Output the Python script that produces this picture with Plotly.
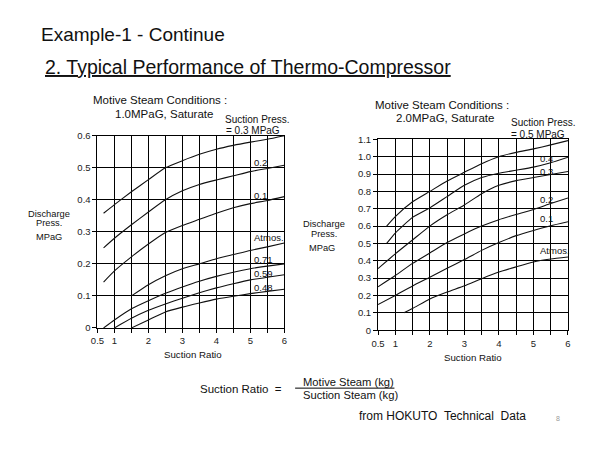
import plotly.graph_objects as go

# ---------------- data ----------------
# Left chart: Motive steam 1.0 MPaG
L_03_x = [0.68, 1.0, 1.5, 2.0, 2.5, 3.0, 3.5, 4.0, 4.5, 5.0, 5.5, 6.0]
L_03_y = [0.358, 0.385, 0.425, 0.463, 0.5, 0.522, 0.542, 0.558, 0.57, 0.58, 0.589, 0.6]
L_02_x = [0.68, 1.0, 1.5, 2.0, 2.5, 3.0, 3.5, 4.0, 4.5, 5.0, 5.5, 6.0]
L_02_y = [0.25, 0.28, 0.322, 0.362, 0.4, 0.428, 0.448, 0.462, 0.475, 0.488, 0.498, 0.508]
L_01_x = [0.68, 1.0, 1.5, 2.0, 2.5, 3.0, 3.5, 4.0, 4.5, 5.0, 5.5, 6.0]
L_01_y = [0.143, 0.178, 0.222, 0.262, 0.298, 0.32, 0.339, 0.358, 0.375, 0.388, 0.398, 0.41]
L_atm_x = [1.5, 2.0, 2.5, 3.0, 3.5, 4.0, 4.5, 5.0, 5.5, 6.0]
L_atm_y = [0.1, 0.135, 0.163, 0.185, 0.2, 0.216, 0.229, 0.242, 0.253, 0.265]
L_071_x = [0.68, 1.0, 1.5, 2.0, 2.5, 3.0, 3.5, 4.0, 4.5, 5.0, 5.5, 6.0]
L_071_y = [0.0, 0.025, 0.06, 0.085, 0.108, 0.128, 0.146, 0.161, 0.174, 0.185, 0.193, 0.2]
L_059_x = [1.0, 1.5, 2.0, 2.5, 3.0, 3.5, 4.0, 4.5, 5.0, 5.5, 6.0]
L_059_y = [0.0, 0.03, 0.055, 0.075, 0.093, 0.11, 0.125, 0.138, 0.15, 0.158, 0.166]
L_048_x = [1.5, 2.0, 2.5, 3.0, 3.5, 4.0, 4.5, 5.0, 5.5, 6.0]
L_048_y = [0.0, 0.025, 0.05, 0.065, 0.078, 0.09, 0.099, 0.107, 0.114, 0.121]

# Right chart: Motive steam 2.0 MPaG
R_05_x = [0.75, 1.0, 1.5, 2.0, 2.5, 3.0, 3.5, 4.0, 4.5, 5.0, 5.5, 6.0]
R_05_y = [0.6, 0.655, 0.74, 0.8, 0.86, 0.91, 0.96, 1.0, 1.025, 1.045, 1.068, 1.093]
R_04_x = [0.75, 1.0, 1.5, 2.0, 2.5, 3.0, 3.5, 4.0, 4.5, 5.0, 5.5, 6.0]
R_04_y = [0.5, 0.56, 0.65, 0.705, 0.77, 0.835, 0.88, 0.905, 0.922, 0.94, 0.965, 0.997]
R_03_x = [0.5, 1.0, 1.5, 2.0, 2.5, 3.0, 3.5, 4.0, 4.5, 5.0, 5.5, 6.0]
R_03_y = [0.355, 0.44, 0.52, 0.6, 0.665, 0.722, 0.787, 0.835, 0.862, 0.88, 0.897, 0.915]
R_02_x = [0.5, 1.0, 1.5, 2.0, 2.5, 3.0, 3.5, 4.0, 4.5, 5.0, 5.5, 6.0]
R_02_y = [0.25, 0.315, 0.385, 0.445, 0.505, 0.555, 0.6, 0.637, 0.667, 0.696, 0.73, 0.762]
R_01_x = [0.5, 1.0, 1.5, 2.0, 2.5, 3.0, 3.5, 4.0, 4.5, 5.0, 5.5, 6.0]
R_01_y = [0.148, 0.2, 0.255, 0.305, 0.357, 0.407, 0.46, 0.505, 0.545, 0.575, 0.602, 0.625]
R_atm_x = [1.25, 1.5, 2.0, 2.5, 3.0, 3.5, 4.0, 4.5, 5.0, 5.5, 6.0]
R_atm_y = [0.1, 0.125, 0.18, 0.22, 0.256, 0.297, 0.335, 0.365, 0.393, 0.41, 0.422]

x_tickvals = [0.5, 1, 2, 3, 4, 5, 6]
x_ticktext = ["0.5", "1", "2", "3", "4", "5", "6"]
yL_tickvals = [0, 0.1, 0.2, 0.3, 0.4, 0.5, 0.6]
yL_ticktext = ["0", "0.1", "0.2", "0.3", "0.4", "0.5", "0.6"]
yR_tickvals = [0, 0.1, 0.2, 0.3, 0.4, 0.5, 0.6, 0.7, 0.8, 0.9, 1.0, 1.1]
yR_ticktext = ["0", "0.1", "0.2", "0.3", "0.4", "0.5", "0.6", "0.7", "0.8", "0.9", "1.0", "1.1"]

left_labels = [("0.2", 0.515), ("0.1", 0.413), ("Atmos.", 0.282), ("0.71", 0.213), ("0.59", 0.169), ("0.48", 0.127)]
right_labels = [("0.4", 0.99), ("0.3", 0.915), ("0.2", 0.755), ("0.1", 0.643), ("Atmos.", 0.459)]

# ---------------- figure ----------------
W, H = 600, 450
FONT = "Liberation Sans, Arial, sans-serif"


def px(x):
    return x / W


def py(y):
    return 1 - y / H


fig = go.Figure()
line = dict(color="#111", width=1.1, shape="spline", smoothing=0.5)
for xs, ys in [(L_03_x, L_03_y), (L_02_x, L_02_y), (L_01_x, L_01_y), (L_atm_x, L_atm_y),
               (L_071_x, L_071_y), (L_059_x, L_059_y), (L_048_x, L_048_y)]:
    fig.add_trace(go.Scatter(x=xs, y=ys, mode="lines", line=line, xaxis="x", yaxis="y",
                             showlegend=False, hoverinfo="skip"))
for xs, ys in [(R_05_x, R_05_y), (R_04_x, R_04_y), (R_03_x, R_03_y), (R_02_x, R_02_y),
               (R_01_x, R_01_y), (R_atm_x, R_atm_y)]:
    fig.add_trace(go.Scatter(x=xs, y=ys, mode="lines", line=line, xaxis="x2", yaxis="y2",
                             showlegend=False, hoverinfo="skip"))

tickfont = dict(family=FONT, size=9.5, color="#222")
xcommon = dict(range=[0.5, 6], tickvals=x_tickvals, ticktext=x_ticktext, showgrid=True,
               gridcolor="black", gridwidth=1, showline=True, mirror=True, linecolor="black",
               linewidth=1, ticks="outside", ticklen=4, tickcolor="black", zeroline=False,
               tickfont=tickfont,
               minor=dict(tickvals=[1.5, 2.5, 3.5, 4.5, 5.5], showgrid=True, gridcolor="black",
                          gridwidth=1, ticks="outside", ticklen=4, tickcolor="black"))
ycommon = dict(showgrid=True, gridcolor="black", gridwidth=1, showline=True, mirror=True,
               linecolor="black", linewidth=1, ticks="outside", ticklen=4, tickcolor="black",
               zeroline=False, tickfont=tickfont)

fig.update_layout(
    width=W, height=H, autosize=False,
    margin=dict(l=0, r=0, t=0, b=0),
    paper_bgcolor="white", plot_bgcolor="white",
    xaxis=dict(domain=[px(92), px(282)], anchor="y", **xcommon),
    yaxis=dict(domain=[py(330), py(133)], anchor="x", range=[0, 0.6],
               tickvals=yL_tickvals, ticktext=yL_ticktext, **ycommon),
    xaxis2=dict(domain=[px(377.3), px(570.5)], anchor="y2", **xcommon),
    yaxis2=dict(domain=[py(332.3), py(136.7)], anchor="x2", range=[0, 1.1],
                tickvals=yR_tickvals, ticktext=yR_ticktext, **ycommon),
)

ann = []


def text(t, x, y, size, xanchor="center", color="#111"):
    ann.append(dict(text=t, x=px(x), y=py(y), xref="paper", yref="paper", showarrow=False,
                    xanchor=xanchor, yanchor="middle",
                    font=dict(family=FONT, size=size, color=color)))


text("Example-1 - Continue", 33, 29, 19, "left")
text("<u>2. Typical Performance of Thermo-Compressor</u>", 37, 63, 19.5, "left")

# left chart texts
text("Motive Steam Conditions :", 156, 96.3, 11.5)
text("1.0MPaG, Saturate", 160, 110.7, 11.5)
text("Suction Press.", 254, 116.5, 10)
text("= 0.3 MPaG", 250, 127.5, 10)
text("Discharge", 43, 212.8, 9.3)
text("Press.", 43, 222.7, 9.3)
text("MPaG", 43, 237, 9.3)
text("Suction Ratio", 189, 357.5, 9.7)

# right chart texts
text("Motive Steam Conditions :", 442, 101, 11.5)
text("2.0MPaG, Saturate", 445, 115.3, 11.5)
text("Suction Press.", 545, 119.5, 10)
text("= 0.5 MPaG", 540, 131.5, 10)
text("Discharge", 322, 223.3, 9.3)
text("Press.", 322, 233.3, 9.3)
text("MPaG", 320, 248.5, 9.3)
text("Suction Ratio", 474, 360.5, 9.7)

# formula
text("Suction Ratio  =", 194, 393, 11.5, "left")
text("Motive Steam (kg)", 347, 385, 11.2)
text("Suction Steam (kg)", 349, 398.5, 11.2)
text("from HOKUTO  Technical  Data", 443, 420, 12)
text("8", 560, 423, 7, color="#999")

for t, yv in left_labels:
    ann.append(dict(text=t, x=5.05, y=yv, xref="x", yref="y", showarrow=False, xanchor="left",
                    yanchor="middle", font=dict(family=FONT, size=9.5, color="#111")))
for t, yv in right_labels:
    ann.append(dict(text=t, x=5.12, y=yv, xref="x2", yref="y2", showarrow=False, xanchor="left",
                    yanchor="middle", font=dict(family=FONT, size=9.5, color="#111")))

fig.update_layout(annotations=ann)
fig.add_shape(type="line", xref="paper", yref="paper", x0=px(293), x1=px(394), y0=py(391.7),
              y1=py(391.7), line=dict(color="black", width=1))

fig.write_html("out.html")
